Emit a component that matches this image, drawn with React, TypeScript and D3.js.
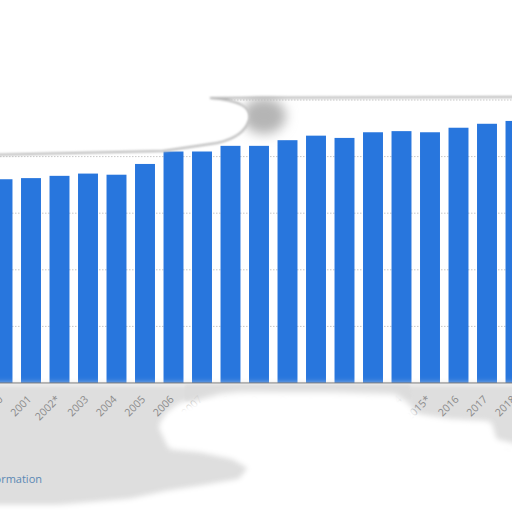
import * as d3 from "d3";

// values (y axis labels are not visible; units = gridline steps)
const years = [
  "2000", "2001", "2002*", "2003", "2004", "2005", "2006", "2007", "2008", "2009",
  "2010", "2011", "2012", "2013", "2014", "2015*", "2016", "2017", "2018",
];
const values = [
  3.6, 3.62, 3.66, 3.7, 3.68, 3.87, 4.09, 4.09, 4.19, 4.19,
  4.29, 4.37, 4.33, 4.43, 4.45, 4.43, 4.51, 4.58, 4.63,
];
const yTicks = [1, 2, 3, 4, 5];

const W = 512;
const H = 512;

export default function App() {
  const x = d3
    .scaleBand<string>()
    .domain(years)
    .range([-11.75, 529.75])
    .paddingInner(0.3)
    .paddingOuter(0.15);

  const y = d3.scaleLinear().domain([0, 5]).range([383, 100]);

  // smudged areas of the picture
  const graySmudge =
    "M-10,384 L522,384 L522,447 L495,440 L490,422 L450,420 L415,415 L400,405 L330,400 L256,393 L233,395 L200,400 L180,403 L167,413 L160,425 L170,447 L200,450 L233,457 L250,467 L240,480 L200,487 L167,492 L130,500 L60,506 L-10,506 Z";
  const whiteCover =
    "M240,392 L330,392 L395,394 L408,403 L418,416 L450,422 L490,424 L495,441 L522,448 L522,522 L-10,522 L-10,507 L60,507 L130,501 L167,493 L200,488 L240,481 L250,468 L233,458 L200,451 L170,448 L160,427 L168,416 L182,406 L200,400 L220,394 Z";
  const grayBand =
    "M185,385 L410,385 L412,398 L400,400 L330,399 L256,398 L200,402 L185,401 Z";
  const topCover =
    "M-10,-10 L522,-10 L522,95 L210,96 Q254,100 249,120 Q244,137 217,143 L163,151 L-10,154 Z";
  const topEdge =
    "M522,97 L210,98 Q254,101 249,120 Q244,137 217,143 L163,151 L-10,155";

  return (
    <div style={{ position: "absolute", left: 0, top: 0 }}>
      <svg width={W} height={H} style={{ display: "block", background: "#fff" }}>
        <defs>
          <filter id="blur3" x="-20%" y="-20%" width="140%" height="140%">
            <feGaussianBlur stdDeviation="3" />
          </filter>
          <filter id="blur1" x="-20%" y="-20%" width="140%" height="140%">
            <feGaussianBlur stdDeviation="1.2" />
          </filter>
          <filter id="blur6" x="-50%" y="-50%" width="200%" height="200%">
            <feGaussianBlur stdDeviation="6" />
          </filter>
        </defs>

        {/* gridlines */}
        {yTicks.map((t) => (
          <line
            key={t}
            x1={0}
            x2={W}
            y1={y(t)}
            y2={y(t)}
            stroke="#c8c8c8"
            strokeDasharray="1.5,1.5"
          />
        ))}

        {/* bars */}
        {years.map((yr, i) => (
          <rect
            key={yr}
            x={x(yr)}
            y={y(values[i])}
            width={x.bandwidth()}
            height={y(0) - y(values[i])}
            fill="#2876dd"
          />
        ))}

        {/* baseline */}
        <line x1={0} x2={W} y1={y(0)} y2={y(0)} stroke="#3c3c3c" strokeWidth={1.2} />

        {/* smudge under the axis */}
        <path d={graySmudge} fill="#dedede" filter="url(#blur3)" />
        <circle cx={506} cy={455} r={6} fill="#c8c8c8" filter="url(#blur1)" />

        {/* x labels */}
        {years.map((yr) => (
          <text
            key={yr}
            transform={`translate(${x(yr)! + x.bandwidth() / 2 + 1},${y(0) + 17}) rotate(-45)`}
            textAnchor="end"
            fontFamily="'Open Sans', sans-serif"
            fontSize={10.5}
            fill="#8a8a8a"
          >
            {yr}
          </text>
        ))}

        <path d={grayBand} fill="#dcdcdc" opacity={0.85} filter="url(#blur1)" />
        <path d={whiteCover} fill="#fff" filter="url(#blur3)" />

        <text
          x={42}
          y={483}
          textAnchor="end"
          fontFamily="'Open Sans', sans-serif"
          fontSize={11}
          fill="#5a88b4"
        >
          Additional Information
        </text>

        {/* torn top edge */}
        <ellipse cx={264} cy={116} rx={22} ry={18} fill="#b5b5b5" filter="url(#blur6)" />
        <path d={topCover} fill="#fff" filter="url(#blur1)" />
        <path d={topEdge} fill="none" stroke="#b5b5b5" strokeWidth={2} filter="url(#blur1)" />
      </svg>
    </div>
  );
}
